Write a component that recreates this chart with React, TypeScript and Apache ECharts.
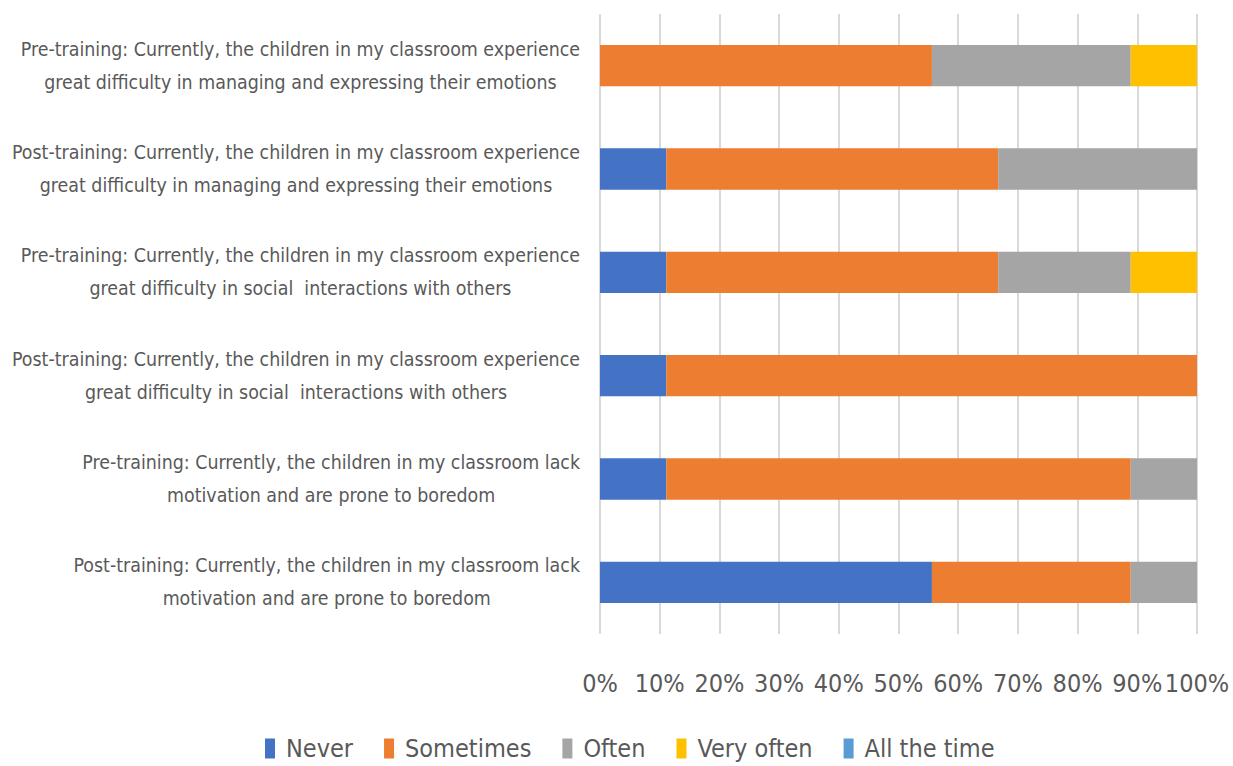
import React, { useEffect, useRef } from "react";
import * as echarts from "echarts";

const categories = [
  "Pre-training: Currently, the children in my classroom experience\ngreat difficulty in managing and expressing their emotions",
  "Post-training: Currently, the children in my classroom experience\ngreat difficulty in managing and expressing their emotions",
  "Pre-training: Currently, the children in my classroom experience\ngreat difficulty in social  interactions with others",
  "Post-training: Currently, the children in my classroom experience\ngreat difficulty in social  interactions with others",
  "Pre-training: Currently, the children in my classroom lack\nmotivation and are prone to boredom",
  "Post-training: Currently, the children in my classroom lack\nmotivation and are prone to boredom",
];

const seriesNames = ["Never", "Sometimes", "Often", "Very often", "All the time"];
const never = [0, 11.1, 11.1, 11.1, 11.1, 55.6];
const sometimes = [55.6, 55.6, 55.6, 88.9, 77.8, 33.3];
const often = [33.3, 33.3, 22.2, 0, 11.1, 11.1];
const veryOften = [11.1, 0, 11.1, 0, 0, 0];
const allTheTime = [0, 0, 0, 0, 0, 0];
const colors = ["#4472C4", "#ED7D31", "#A5A5A5", "#FFC000", "#5B9BD5"];

const FONT = "'Liberation Sans Narrow', 'DejaVu Sans Condensed', 'Noto Sans', sans-serif";

export default function App() {
  const ref = useRef<HTMLDivElement>(null);
  useEffect(() => {
    if (!ref.current) return;
    const chart = echarts.init(ref.current, undefined, { renderer: "svg" });
    const values = [never, sometimes, often, veryOften, allTheTime];
    chart.setOption({
      animation: false,
      color: colors,
      textStyle: { fontFamily: FONT },
      grid: {
        left: 600,
        right: 36,
        top: 14,
        bottom: 132,
        containLabel: false,
        outerBoundsMode: "none",
      },
      legend: {
        data: seriesNames,
        left: 260,
        top: 731,
        itemWidth: 10,
        itemHeight: 20,
        itemGap: 31,
        icon: "rect",
        textStyle: {
          fontSize: 25,
          lineHeight: 25,
          color: "#595959",
          fontFamily: FONT,
          padding: [0, 0, 0, 6],
        },
      },
      xAxis: {
        type: "value",
        min: 0,
        max: 100,
        interval: 10,
        axisLine: { show: false },
        axisTick: { show: false },
        axisLabel: {
          formatter: "{value}%",
          fontSize: 25,
          color: "#595959",
          margin: 37,
          hideOverlap: false,
          showMaxLabel: true,
          showMinLabel: true,
          fontFamily: FONT,
        },
        splitLine: { show: true, lineStyle: { color: "#D9D9D9", width: 2 } },
      },
      yAxis: {
        type: "category",
        inverse: true,
        data: categories,
        axisLine: { show: false },
        axisTick: { show: false },
        axisLabel: {
          margin: 20,
          formatter: (v: string) =>
            v
              .split("\n")
              .map((l) => `{c|${l}}`)
              .join("\n"),
          rich: {
            c: {
              align: "center",
              fontSize: 19.4,
              lineHeight: 33,
              color: "#595959",
              fontFamily: FONT,
            },
          },
        },
      },
      series: seriesNames.map((name, i) => ({
        name,
        type: "bar",
        stack: "total",
        barWidth: "40%",
        data: values[i],
        itemStyle: { color: colors[i] },
      })),
    });
    return () => chart.dispose();
  }, []);
  return (
    <div
      ref={ref}
      style={{ position: "absolute", left: 0, top: 0, width: 1233, height: 766, background: "#fff" }}
    />
  );
}
